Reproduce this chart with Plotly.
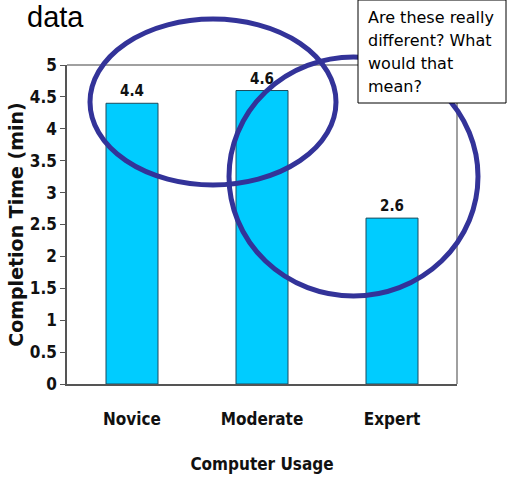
import plotly.graph_objects as go

categories = ["Novice", "Moderate", "Expert"]
completion_time = [4.4, 4.6, 2.6]
y_ticks = [0, 0.5, 1, 1.5, 2, 2.5, 3, 3.5, 4, 4.5, 5]
y_tick_text = ["0", "0.5", "1", "1.5", "2", "2.5", "3", "3.5", "4", "4.5", "5"]
note_lines = ["Are these really", "different? What", "would that", "mean?"]

W, H = 507, 477
L, R, T, B = 67, 50, 65, 93
PW, PH = W - L - R, H - T - B

narrow = "DejaVu Sans Condensed, Liberation Sans Narrow, Arial Narrow, sans-serif"


def px(x):
    return (x - L) / PW


def py(y):
    return (H - B - y) / PH


fig = go.Figure()
fig.add_trace(go.Bar(
    x=categories, y=completion_time,
    marker=dict(color="#00CCFF", line=dict(color="#1d4b5c", width=1)),
    width=0.4,
    text=[f"{v:.1f}" for v in completion_time],
    textposition="outside",
    textfont=dict(family=narrow, size=15, color="#111111", weight="bold"),
    cliponaxis=False,
))

ellipse_style = dict(type="circle", xref="paper", yref="paper",
                     line=dict(color="#333399", width=5), layer="above")
shapes = [
    # gray frame on top and right of the plot area
    dict(type="line", xref="paper", yref="paper", x0=0, x1=1, y0=1, y1=1,
         line=dict(color="#808080", width=1.5)),
    dict(type="line", xref="paper", yref="paper", x0=1, x1=1, y0=0, y1=1,
         line=dict(color="#808080", width=1.5)),
    dict(ellipse_style, x0=px(90), x1=px(336), y0=py(185), y1=py(19)),
    dict(ellipse_style, x0=px(229), x1=px(478), y0=py(296), y1=py(57)),
    dict(type="rect", xref="paper", yref="paper", layer="above",
         x0=px(358), x1=px(506), y0=py(103), y1=py(0),
         fillcolor="white", line=dict(color="black", width=1)),
]

annotations = [
    dict(text="data", xref="paper", yref="paper", x=px(25), y=py(17),
         xanchor="left", yanchor="middle", showarrow=False,
         font=dict(family="Liberation Sans, Arial", size=29, color="black")),
]
for i, line in enumerate(note_lines):
    annotations.append(dict(
        text=line, xref="paper", yref="paper", x=px(366), y=py(17 + 23.3 * i),
        xanchor="left", yanchor="middle", showarrow=False,
        font=dict(family="DejaVu Sans, Verdana", size=16, color="black")))

fig.update_layout(
    width=W, height=H,
    margin=dict(l=L, r=R, t=T, b=B, pad=0, autoexpand=False),
    paper_bgcolor="white", plot_bgcolor="white",
    showlegend=False,
    shapes=shapes,
    annotations=annotations,
    bargap=0.6,
    xaxis=dict(
        automargin=False,
        showline=True, linecolor="#555555", linewidth=1.5,
        ticks="", showgrid=False,
        tickfont=dict(family=narrow, size=17, color="#111111", weight="bold"),
        ticklabelstandoff=19,
        title=dict(text="Computer Usage", standoff=30,
                   font=dict(family=narrow, size=17, color="#111111", weight="bold")),
    ),
    yaxis=dict(
        automargin=False,
        range=[0, 5], tickvals=y_ticks, ticktext=y_tick_text,
        showline=True, linecolor="#555555", linewidth=1.5,
        ticks="outside", ticklen=5, tickcolor="#555555", showgrid=False,
        zeroline=False,
        tickfont=dict(family=narrow, size=17, color="#111111", weight="bold"),
        title=dict(text="Completion Time (min)", standoff=1,
                   font=dict(family="DejaVu Sans, Liberation Sans", size=19,
                             color="#111111", weight="bold")),
    ),
)

fig.write_html("out.html")
